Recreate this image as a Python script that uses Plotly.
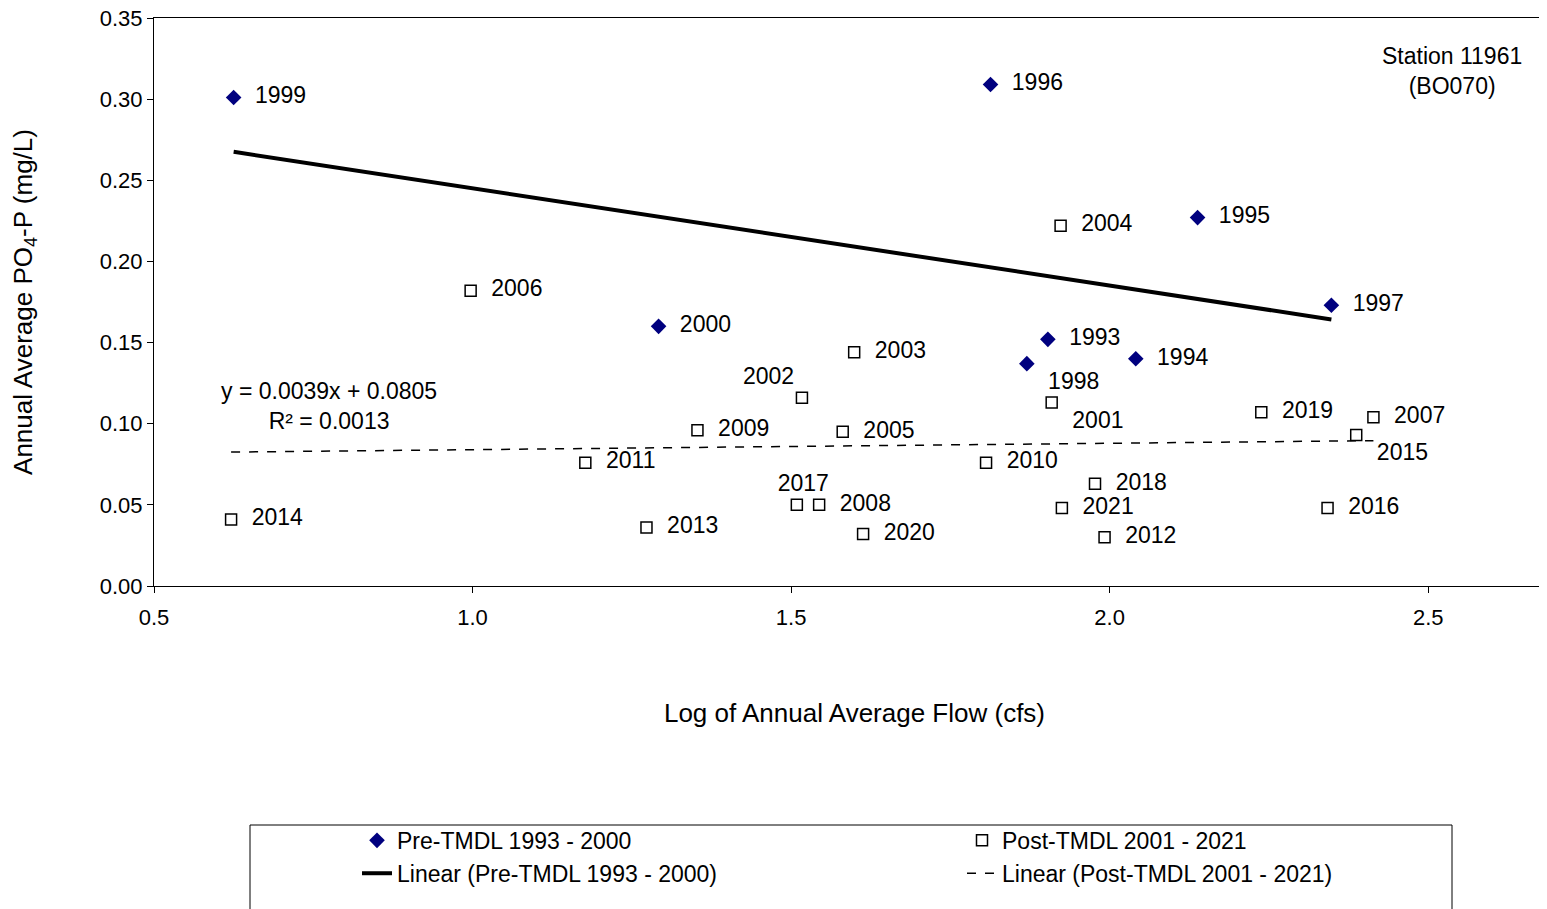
import numpy as np
import plotly.graph_objects as go

pre_years = ["1999","1996","1995","1997","2000","1993","1998","1994"]
pre_x = [0.625,1.813,2.138,2.348,1.292,1.903,1.870,2.041]
pre_y = [0.301,0.309,0.227,0.173,0.160,0.152,0.137,0.140]
pre_pos = ["middle right"]*6 + ["bottom right","middle right"]

post_years = ["2004","2006","2003","2002","2001","2019","2007","2015","2009","2005","2011",
              "2010","2018","2014","2013","2017","2008","2020","2021","2012","2016"]
post_x = [1.923,0.997,1.599,1.517,1.909,2.238,2.414,2.387,1.353,1.581,1.177,
          1.806,1.977,0.621,1.273,1.509,1.544,1.613,1.925,1.992,2.342]
post_y = [0.222,0.182,0.144,0.116,0.113,0.107,0.104,0.093,0.096,0.095,0.076,
          0.076,0.063,0.041,0.036,0.050,0.050,0.032,0.048,0.030,0.048]
post_pos = ["middle right","middle right","middle right","top left","bottom right","middle right",
            "middle right","bottom right","middle right","middle right","middle right",
            "middle right","middle right","middle right","middle right","top center",
            "middle right","middle right","middle right","middle right","middle right"]

F = "Liberation Sans"
PW = 1401.0
fig = go.Figure()
fig.add_trace(go.Scatter(x=pre_x, y=pre_y, mode="markers+text", text=["  "+t for t in pre_years],
    textposition=pre_pos, textfont=dict(size=23, color="black", family=F),
    marker=dict(symbol="diamond", size=12, color="#00007f"), name="Pre-TMDL 1993 - 2000"))
fig.add_trace(go.Scatter(x=post_x, y=post_y, mode="markers+text", text=["  "+t for t in post_years],
    textposition=post_pos, textfont=dict(size=23, color="black", family=F),
    marker=dict(symbol="square-open", size=11, color="black", line=dict(width=1.5)),
    name="Post-TMDL 2001 - 2021"))

a, b = np.polyfit(pre_x, pre_y, 1)
xs = np.array([min(pre_x), max(pre_x)])
fig.add_trace(go.Scatter(x=xs, y=a*xs+b, mode="lines", line=dict(color="black", width=4),
    name="Linear (Pre-TMDL 1993 - 2000)"))
c, d = np.polyfit(post_x, post_y, 1)
xs2 = np.array([min(post_x), max(post_x)])
fig.add_trace(go.Scatter(x=xs2, y=c*xs2+d, mode="lines", line=dict(color="black", width=1.5, dash="dash"),
    name="Linear (Post-TMDL 2001 - 2021)"))

fig.update_layout(
    width=1547, height=909, paper_bgcolor="white", plot_bgcolor="white",
    margin=dict(l=146, r=0, t=10, b=331, autoexpand=False),
    font=dict(family=F, size=22, color="black"),
    xaxis=dict(range=[0.5, 2.699], tickvals=[0.5,1.0,1.5,2.0,2.5], tickformat=".1f", automargin=False,
               showgrid=False, zeroline=False, showline=True, linecolor="black", mirror=True,
               ticks="outside", ticklen=6, tickcolor="black", ticklabelstandoff=6,
               title=dict(text="Log of Annual Average Flow (cfs)", standoff=74)),
    yaxis=dict(range=[0, 0.35], dtick=0.05, tickformat=".2f", showgrid=False, zeroline=False, automargin=False,
               ticklabeloverflow="allow",
               showline=True, linecolor="black", ticks="outside", ticklen=6, tickcolor="black",
               title=dict(text="Annual Average PO<sub>4</sub>-P (mg/L)", standoff=62)),
    legend=dict(orientation="h", x=(357-154)/PW, xanchor="left", y=-0.41, yanchor="top",
                entrywidth=560, borderwidth=0, bgcolor="rgba(0,0,0,0)",
                font=dict(size=23, family=F)),
    showlegend=True,
)
fig.add_shape(type="rect", xref="paper", yref="paper", x0=(250-154)/PW, x1=(1452-154)/PW,
              y0=-(930-586)/568, y1=-(825-586)/568, line=dict(color="black", width=1))
fig.add_annotation(x=(1524-154)/PW, y=0.96, xref="paper", yref="paper", text="Station 11961<br>(BO070)",
                   showarrow=False, align="center", xanchor="right", font=dict(size=23, family=F))
fig.add_annotation(x=0.775, y=0.111, xref="x", yref="y",
                   text="y = 0.0039x + 0.0805<br>R² = 0.0013", showarrow=False, align="center",
                   font=dict(size=23, family=F))
fig.write_html("out.html")
